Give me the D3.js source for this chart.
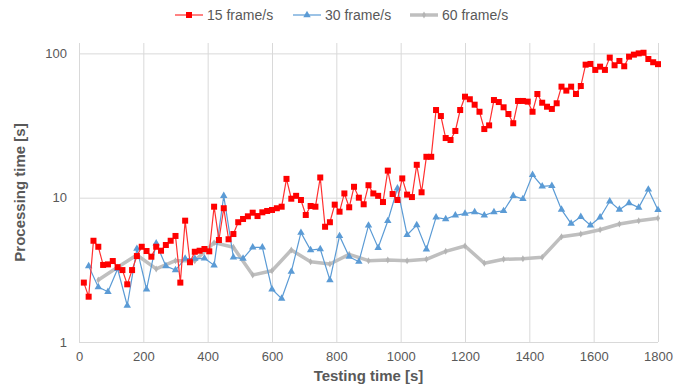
<!DOCTYPE html>
<html>
<head>
<meta charset="utf-8">
<script src="https://cdn.jsdelivr.net/npm/d3@7"></script>
<style>
    body { margin: 0; background: #fff; }
    svg text { font-family: "Liberation Sans", Arial, sans-serif; fill: #595959; }
</style>
</head>
<body>
<div id="chart"></div>
<script>
// 15 frame/s, one sample every 15 s
const time15 = [
    15, 30, 45, 60, 75, 90, 105, 120, 135, 150, 165, 180, 195, 210, 225, 240, 255, 270, 285, 300,
    315, 330, 345, 360, 375, 390, 405, 420, 435, 450, 465, 480, 495, 510, 525, 540, 555, 570, 585, 600,
    615, 630, 645, 660, 675, 690, 705, 720, 735, 750, 765, 780, 795, 810, 825, 840, 855, 870, 885, 900,
    915, 930, 945, 960, 975, 990, 1005, 1020, 1035, 1050, 1065, 1080, 1095, 1110, 1125, 1140, 1155, 1170, 1185, 1200,
    1215, 1230, 1245, 1260, 1275, 1290, 1305, 1320, 1335, 1350, 1365, 1380, 1395, 1410, 1425, 1440, 1455, 1470, 1485, 1500,
    1515, 1530, 1545, 1560, 1575, 1590, 1605, 1620, 1635, 1650, 1665, 1680, 1695, 1710, 1725, 1740, 1755, 1770, 1785, 1800
];
const value15 = [
    2.58, 2.06, 5.03, 4.57, 3.42, 3.45, 3.64, 3.3, 3.15, 2.51, 3.15, 3.94, 4.57, 4.27, 3.9, 4.57, 4.29, 4.7, 5.03, 5.43,
    2.58, 6.93, 3.57, 4.22, 4.29, 4.41, 4.25, 8.66, 5.09, 8.45, 5.15, 5.6, 6.76, 7.12, 7.43, 7.87, 7.46, 7.92, 8.09, 8.22,
    8.45, 8.66, 13.5, 9.84, 10.3, 9.64, 7.59, 8.76, 8.66, 13.8, 6.29, 6.76, 8.95, 8.0, 10.7, 8.58, 11.9, 10.0, 9.0, 12.2,
    10.7, 10.3, 9.33, 15.4, 10.6, 9.64, 13.6, 10.5, 10.1, 16.9, 10.9, 19.2, 19.2, 40.5, 36.8, 25.9, 25.1, 29.0, 40.5, 50.1,
    48.1, 44.1, 39.4, 29.9, 31.7, 47.5, 46.0, 42.3, 38.0, 32.8, 46.8, 46.8, 46.3, 39.4, 52.3, 45.5, 42.7, 41.2, 45.1, 58.8,
    55.2, 58.8, 52.3, 59.4, 83.5, 84.5, 76.8, 80.9, 76.8, 93.5, 82.7, 88.6, 81.4, 94.9, 98, 100, 101, 91.4, 86.8, 84.2
];

// 30 frame/s, one sample every 30 s
const time30 = [
    30, 60, 90, 120, 150, 180, 210, 240, 270, 300, 330, 360, 390, 420, 450, 480, 510, 540, 570, 600,
    630, 660, 690, 720, 750, 780, 810, 840, 870, 900, 930, 960, 990, 1020, 1050, 1080, 1110, 1140, 1170, 1200,
    1230, 1260, 1290, 1320, 1350, 1380, 1410, 1440, 1470, 1500, 1530, 1560, 1590, 1620, 1650, 1680, 1710, 1740, 1770, 1800
];
const value30 = [
    3.36, 2.4, 2.23, 3.21, 1.79, 4.43, 2.32, 4.83, 3.36, 3.15, 3.78, 3.78, 3.8, 3.4, 10.3, 3.86, 3.78, 4.53, 4.53, 2.32,
    2.0, 3.07, 5.72, 4.34, 4.41, 2.69, 5.43, 3.9, 3.6, 6.42, 4.5, 6.9, 11.6, 5.52, 6.46, 4.39, 7.3, 7.1, 7.55, 7.75,
    7.96, 7.55, 7.96, 8.09, 10.3, 9.8, 14.4, 12.0, 12.1, 8.26, 6.61, 7.38, 6.44, 7.31, 9.44, 8.26, 9.19, 8.53, 11.4, 8.22
];

// 60 frame/s, one sample every 60 s
const time60 = [
    60, 120, 180, 240, 300, 360, 420, 480, 540, 600, 660, 720, 780, 840, 900,
    960, 1020, 1080, 1140, 1200, 1260, 1320, 1380, 1440, 1500, 1560, 1620, 1680, 1740, 1800
];
const value60 = [
    2.69, 3.3, 4.01, 3.21, 3.66, 3.66, 4.88, 4.53, 2.91, 3.12, 4.34, 3.6, 3.47, 4.05, 3.66,
    3.7, 3.66, 3.74, 4.25, 4.63, 3.51, 3.74, 3.78, 3.86, 5.37, 5.6, 6.0, 6.57, 6.93, 7.2
];

const xTicks = [0, 200, 400, 600, 800, 1000, 1200, 1400, 1600, 1800];
const yTicks = [1, 10, 100];
const seriesNames = ["15 frame/s", "30 frame/s", "60 frame/s"];

const width = 685, height = 385;
const plot = { left: 79, right: 658, top: 43, bottom: 342 };

const svg = d3.select("#chart").append("svg")
    .attr("width", width)
    .attr("height", height);

const x = d3.scaleLinear().domain([0, 1800]).range([plot.left, plot.right]);
const y = d3.scaleLog().domain([1, 118]).range([plot.bottom, plot.top]);

// gridlines
svg.append("g")
    .attr("transform", `translate(0,${plot.bottom})`)
    .call(d3.axisBottom(x).tickValues(xTicks).tickSize(-(plot.bottom - plot.top)).tickFormat(""))
    .call(g => g.select(".domain").remove())
    .call(g => g.selectAll("line").attr("stroke", "#d9d9d9").attr("stroke-width", 1));

svg.append("g")
    .attr("transform", `translate(${plot.left},0)`)
    .call(d3.axisLeft(y).tickValues(yTicks).tickSize(-(plot.right - plot.left)).tickFormat(""))
    .call(g => g.select(".domain").remove())
    .call(g => g.selectAll("line").attr("stroke", "#d9d9d9").attr("stroke-width", 1));

// tick labels
svg.append("g")
    .attr("transform", `translate(0,${plot.bottom})`)
    .call(d3.axisBottom(x).tickValues(xTicks).tickSize(0).tickPadding(10).tickFormat(d3.format("d")))
    .call(g => g.select(".domain").remove())
    .selectAll("text")
    .style("font-size", "13px");

svg.append("g")
    .attr("transform", `translate(${plot.left},0)`)
    .call(d3.axisLeft(y).tickValues(yTicks).tickSize(0).tickPadding(12).tickFormat(d3.format("d")))
    .call(g => g.select(".domain").remove())
    .selectAll("text")
    .style("font-size", "13px");

// axis titles
svg.append("text")
    .attr("x", (plot.left + plot.right) / 2)
    .attr("y", 381)
    .attr("text-anchor", "middle")
    .style("font-size", "15px")
    .style("font-weight", "bold")
    .text("Testing time [s]");

svg.append("text")
    .attr("transform", "rotate(-90)")
    .attr("x", -(plot.top + plot.bottom) / 2)
    .attr("y", 25)
    .attr("text-anchor", "middle")
    .style("font-size", "15px")
    .style("font-weight", "bold")
    .text("Processing time [s]");

const line = d3.line().x(d => x(d[0])).y(d => y(d[1]));

const pts60 = time60.map((t, i) => [t, value60[i]]);
const pts30 = time30.map((t, i) => [t, value30[i]]);
const pts15 = time15.map((t, i) => [t, value15[i]]);

const triangle = d3.symbol().type(d3.symbolTriangle).size(24);
const diamond = d3.symbol().type(d3.symbolDiamond).size(14);

// 60 frame/s
svg.append("path")
    .datum(pts60)
    .attr("d", line)
    .attr("fill", "none")
    .attr("stroke", "#bfbfbf")
    .attr("stroke-width", 3.5)
    .attr("stroke-linejoin", "round");

svg.append("g").selectAll("path")
    .data(pts60)
    .enter().append("path")
    .attr("d", diamond)
    .attr("transform", d => `translate(${x(d[0])},${y(d[1])})`)
    .attr("fill", "#b4b4b4");

// 30 frame/s
svg.append("path")
    .datum(pts30)
    .attr("d", line)
    .attr("fill", "none")
    .attr("stroke", "#5b9bd5")
    .attr("stroke-width", 1.2);

svg.append("g").selectAll("path")
    .data(pts30)
    .enter().append("path")
    .attr("d", triangle)
    .attr("transform", d => `translate(${x(d[0])},${y(d[1])})`)
    .attr("fill", "#5b9bd5");

// 15 frame/s
svg.append("path")
    .datum(pts15)
    .attr("d", line)
    .attr("fill", "none")
    .attr("stroke", "#ff3030")
    .attr("stroke-width", 1.2);

svg.append("g").selectAll("rect")
    .data(pts15)
    .enter().append("rect")
    .attr("x", d => x(d[0]) - 3)
    .attr("y", d => y(d[1]) - 3)
    .attr("width", 6)
    .attr("height", 6)
    .attr("fill", "#ff0000");

// legend
const legendItems = [
    { name: seriesNames[0], x0: 175, color: "#ff3030", width: 1.2, mark: "square" },
    { name: seriesNames[1], x0: 293, color: "#5b9bd5", width: 1.2, mark: "triangle" },
    { name: seriesNames[2], x0: 410, color: "#bfbfbf", width: 3.5, mark: "diamond" }
];
const legendY = 15;

const legend = svg.append("g");
legendItems.forEach(item => {
    legend.append("line")
        .attr("x1", item.x0).attr("x2", item.x0 + 28)
        .attr("y1", legendY).attr("y2", legendY)
        .attr("stroke", item.color)
        .attr("stroke-width", item.width);

    const cx = item.x0 + 14;
    if (item.mark === "square") {
        legend.append("rect")
            .attr("x", cx - 3).attr("y", legendY - 3)
            .attr("width", 6).attr("height", 6)
            .attr("fill", "#ff0000");
    } else if (item.mark === "triangle") {
        legend.append("path")
            .attr("d", triangle)
            .attr("transform", `translate(${cx},${legendY})`)
            .attr("fill", item.color);
    } else {
        legend.append("path")
            .attr("d", diamond)
            .attr("transform", `translate(${cx},${legendY})`)
            .attr("fill", "#b4b4b4");
    }

    legend.append("text")
        .attr("x", item.x0 + 32)
        .attr("y", legendY)
        .attr("dy", "0.35em")
        .style("font-size", "14px")
        .text(item.name);
});
</script>
</body>
</html>
